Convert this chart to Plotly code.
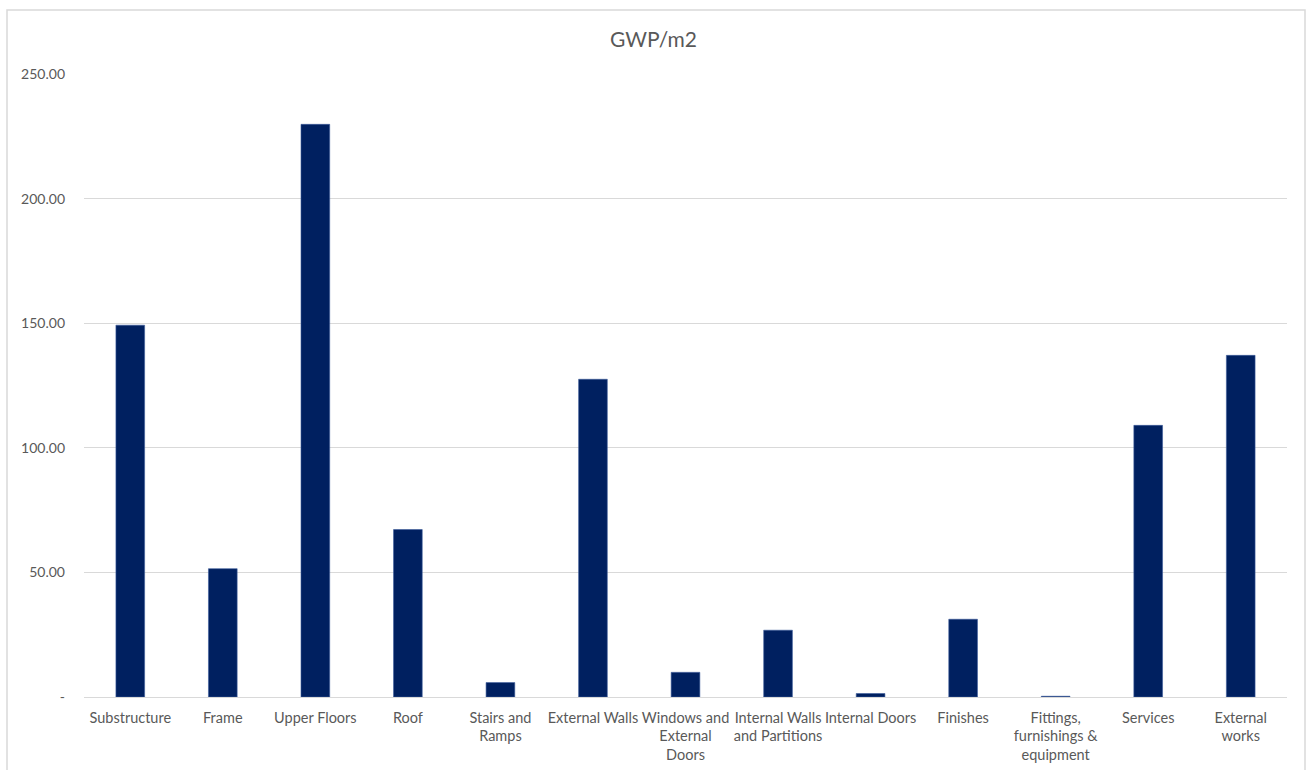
import plotly.graph_objects as go

# Embodied carbon per building element (kgCO2e per m2 GIA)
categories = [
    "Substructure", "Frame", "Upper Floors", "Roof", "Stairs and<br>Ramps",
    "External Walls", "Windows and<br>External<br>Doors", "Internal Walls<br>and Partitions",
    "Internal Doors", "Finishes", "Fittings,<br>furnishings &<br>equipment", "Services",
    "External<br>works",
]
gwp_per_m2 = [149.2, 51.5, 229.8, 67.2, 5.8, 127.5, 9.9, 26.8, 1.4, 31.2, 0.3, 109.0, 137.1]

y_tick_values = [0, 50, 100, 150, 200, 250]
y_tick_labels = ["-", "50.00", "100.00", "150.00", "200.00", "250.00"]

W, H = 1307, 770
ML, MR, MT, MB = 84, 20, 74, 73
pw, ph = W - ML - MR, H - MT - MB

font_family = "Lato, Carlito, Calibri, sans-serif"
text_grey = "#595959"

fig = go.Figure(
    go.Bar(
        x=list(range(len(categories))),
        y=gwp_per_m2,
        marker=dict(color="#002060", line=dict(color="#3A5A9A", width=0.6)),
        hoverinfo="x+y",
    )
)

fig.update_layout(
    width=W,
    height=H,
    margin=dict(l=ML, r=MR, t=MT, b=MB),
    paper_bgcolor="white",
    plot_bgcolor="white",
    bargap=0.69,
    showlegend=False,
    font=dict(family=font_family, size=13, color=text_grey),
    title=dict(
        text="GWP/m2",
        x=0.5,
        xanchor="center",
        y=1 - 40 / H,
        yanchor="middle",
        font=dict(family=font_family, size=21, color=text_grey),
    ),
    xaxis=dict(
        tickmode="array",
        tickvals=list(range(len(categories))),
        ticktext=categories,
        range=[-0.5, len(categories) - 0.5],
        automargin=False,
        showgrid=False,
        showline=False,
        zeroline=False,
        ticks="",
        ticklen=0,
        tickangle=0,
        ticklabelstandoff=10,
        tickfont=dict(family=font_family, size=14.5, color=text_grey),
    ),
    yaxis=dict(
        range=[0, 250],
        automargin=False,
        tickmode="array",
        tickvals=y_tick_values,
        ticktext=y_tick_labels,
        showgrid=True,
        gridcolor="#D9D9D9",
        gridwidth=1,
        zeroline=True,
        zerolinecolor="#D9D9D9",
        zerolinewidth=1,
        showline=False,
        ticks="",
        ticklabelstandoff=18,
        tickfont=dict(family=font_family, size=14, color=text_grey),
    ),
)

# Chart-area frame, drawn in paper coordinates
fig.add_shape(
    type="rect",
    xref="paper",
    yref="paper",
    x0=(7 - ML) / pw,
    x1=(1305 - ML) / pw,
    y0=(H - MB - 800) / ph,
    y1=(H - MB - 10) / ph,
    line=dict(color="#D9D9D9", width=1.5),
    fillcolor="rgba(0,0,0,0)",
    layer="below",
)

fig.write_html("out.html")
